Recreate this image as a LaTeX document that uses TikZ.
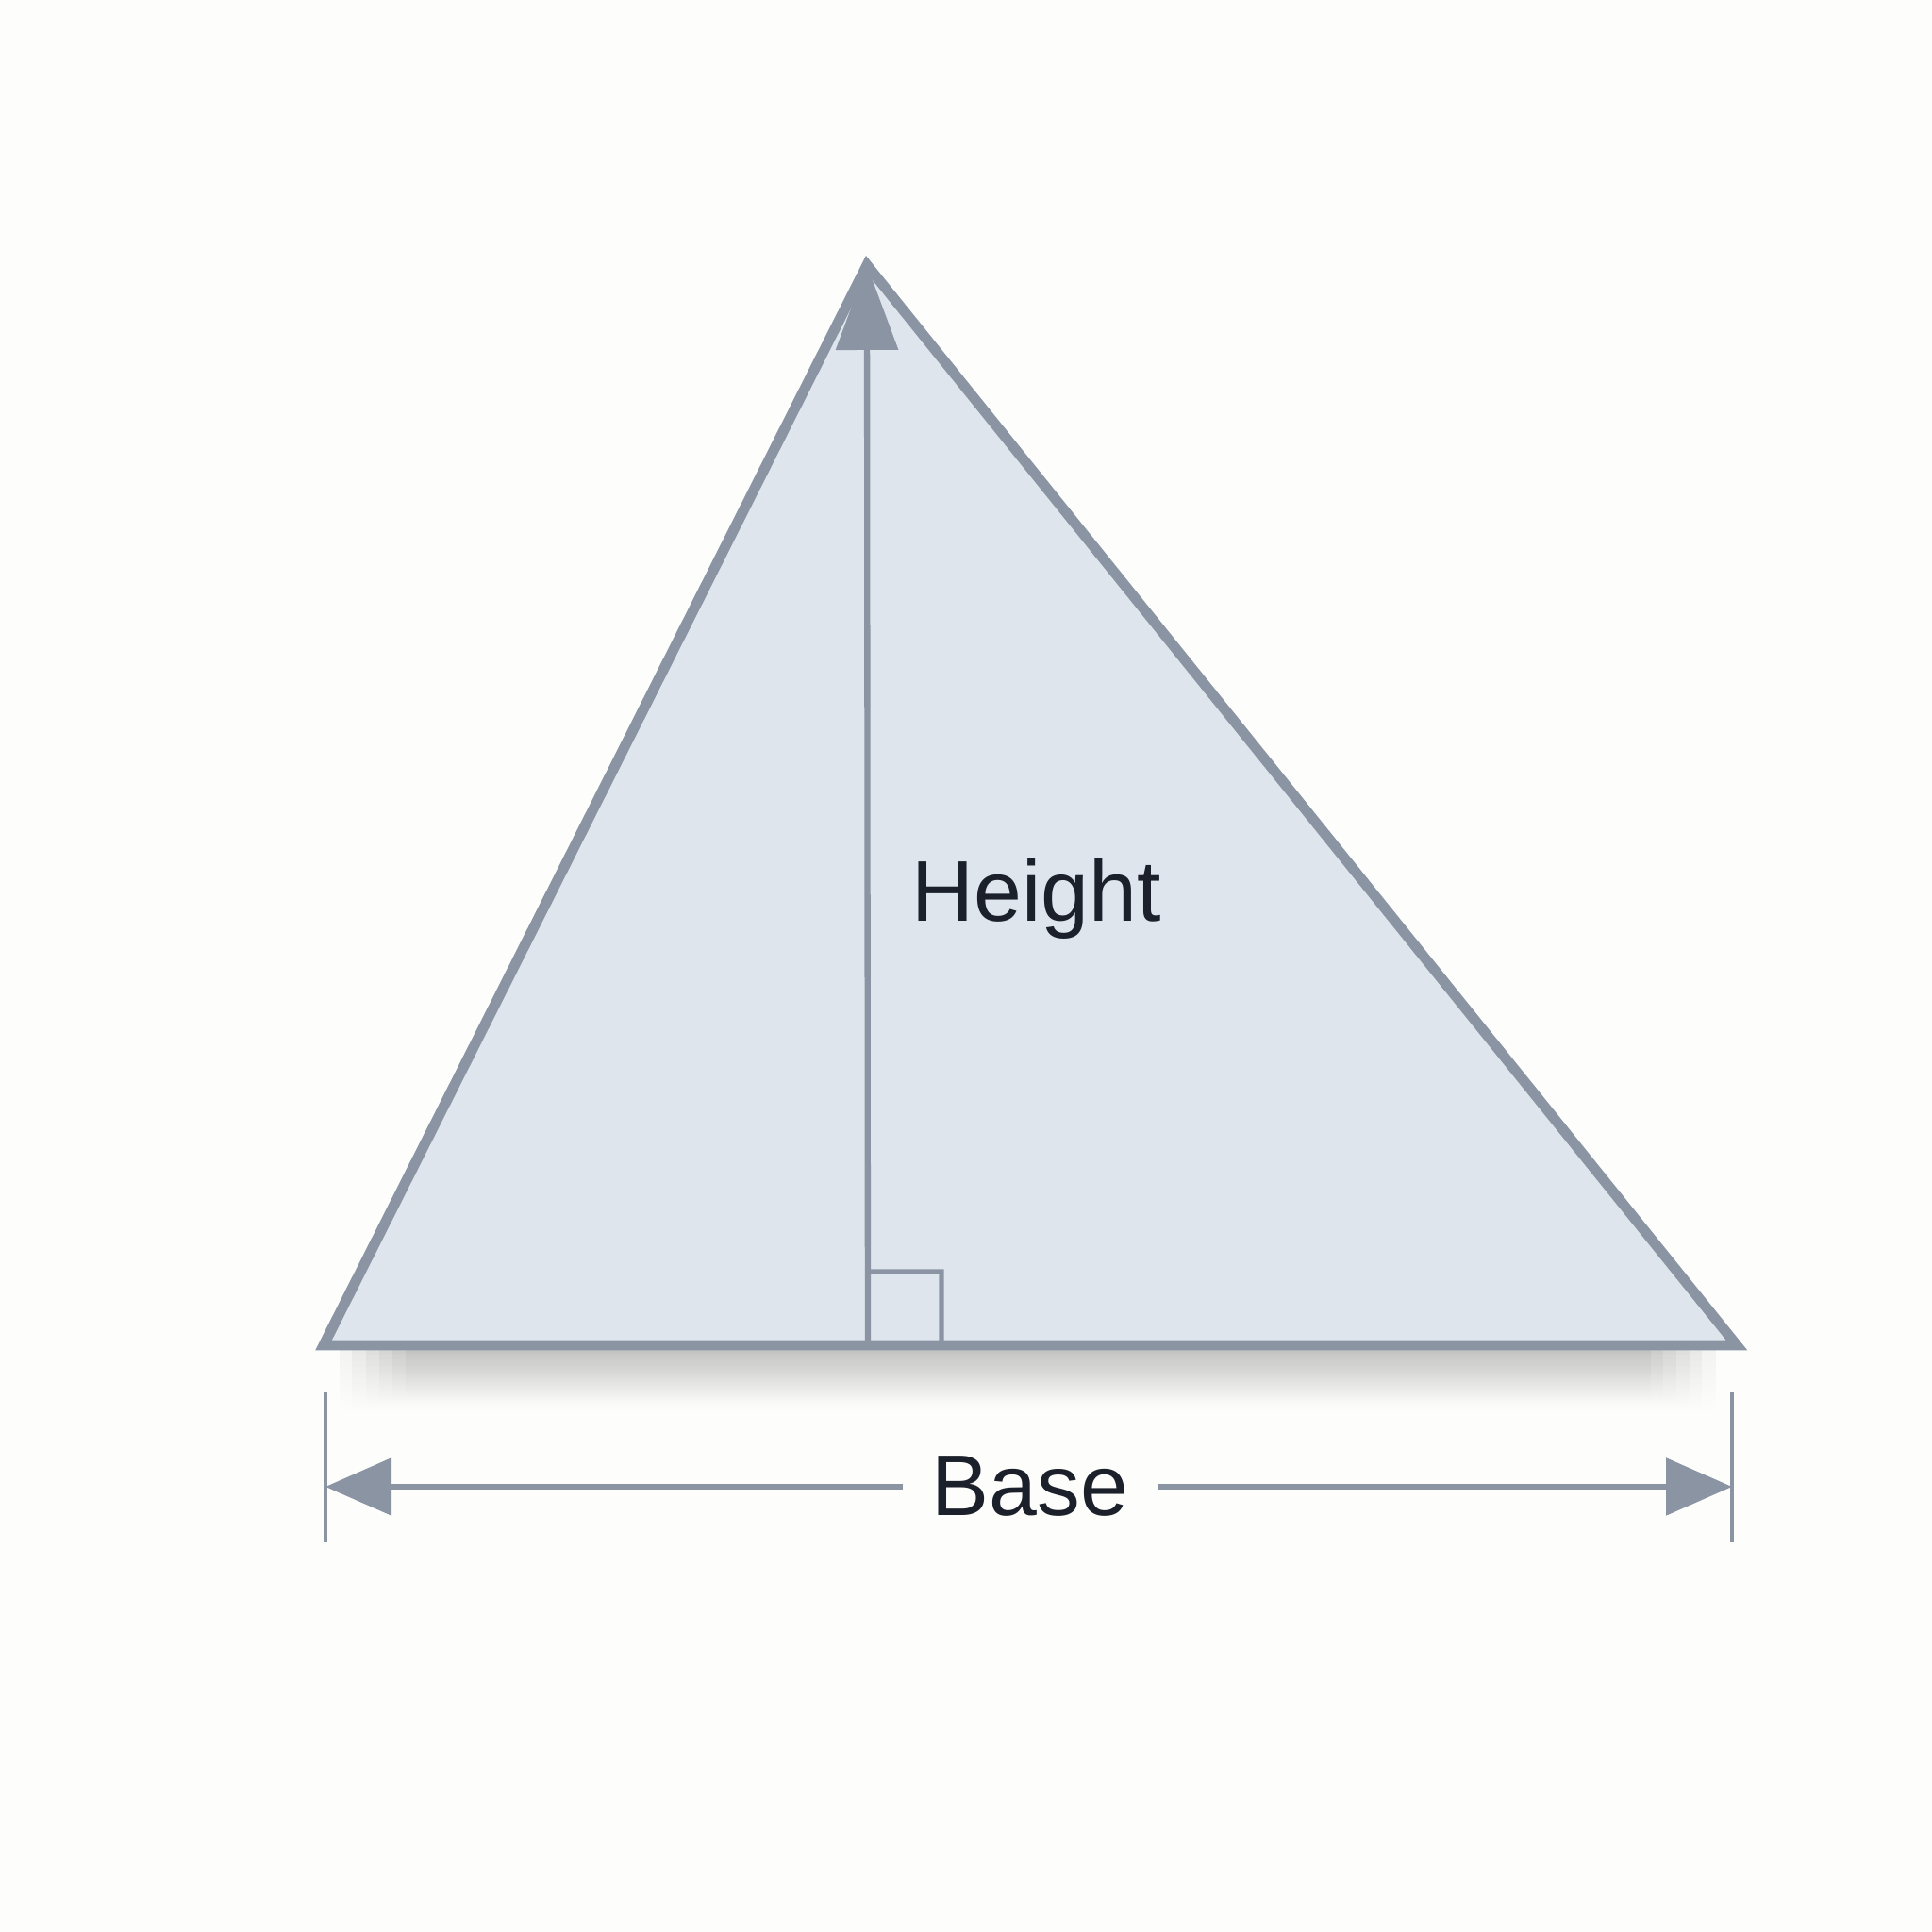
\documentclass[tikz,border=0pt]{standalone}
\usepackage{fontspec}
\setmainfont{Liberation Sans}
\usepackage{tikz}
\usepackage{tkz-euclide}
\usepackage{xcolor}
\usetikzlibrary{arrows.meta,fadings}
\definecolor{edge}{HTML}{8A94A3}
\definecolor{face}{HTML}{DEE5ED}
\definecolor{ink}{HTML}{1B202A}
\definecolor{paper}{HTML}{FDFDFC}
\tikzset{
	label text/.style={text=ink,font=\fontsize{26}{31}\selectfont},
	dim line/.style={edge,line width=1.6pt,-{Triangle[length=0.7cm,width=0.6cm]}},
	dim tick/.style={edge,line width=1.3pt}
}

\begin{document}
\begin{tikzpicture}
	\fill[paper] (0,0) rectangle (20.48,20.48);
	\useasboundingbox (0,0) rectangle (20.48,20.48);
	\tkzDefPoints{3.43/6.22/A,18.41/6.22/B,9.19/17.67/C,9.20/6.22/H}
	\tkzDefPoints{3.45/4.72/L,18.36/4.72/R,3.45/5.72/Lt,3.45/4.13/Lb,18.36/5.72/Rt,18.36/4.13/Rb}
	% soft shadow under the base
	\foreach \i in {0,...,5}
		\fill[black,opacity=0.045,path fading=south] (3.6+0.14*\i,6.22) rectangle (18.2-0.14*\i,5.5+0.03*\i);
	% triangle
	\fill[face] (A) -- (B) -- (C) -- cycle;
	\tkzDrawPolygon[edge,line width=3.1pt,line join=miter](A,B,C)
	% height
	\tkzMarkRightAngle[size=0.78,edge,line width=1.5pt](B,H,C)
	\draw[edge,line width=1.8pt,-{Triangle[length=0.9cm,width=0.65cm]}] (H) -- (C);
	\node[label text,anchor=base west,inner sep=0pt] (height) at (9.64,10.71) {Height};
	% base
	\node[label text,inner xsep=0.28cm] (base) at (10.92,4.72) {Base};
	\draw[dim tick] (Lt) -- (Lb);
	\draw[dim tick] (Rt) -- (Rb);
	\draw[dim line] (base.west |- L) -- (L);
	\draw[dim line] (base.east |- R) -- (R);
\end{tikzpicture}
\end{document}
